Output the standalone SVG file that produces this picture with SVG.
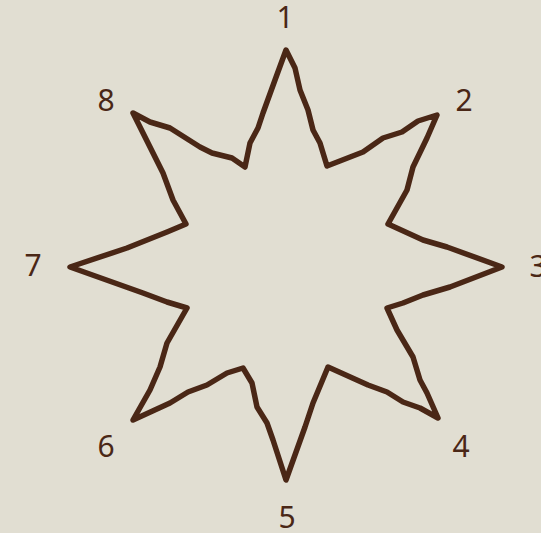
<svg xmlns="http://www.w3.org/2000/svg" width="541" height="533" viewBox="0 0 541 533">
<style>
.star{fill:none;stroke:#4a2716;stroke-width:5.5;stroke-linejoin:round;stroke-linecap:round}
.lbl{font-family:"Noto Sans","Liberation Sans",sans-serif;font-size:30px;fill:#4a2716;text-anchor:middle}
</style>
<rect width="541" height="533" fill="#e1ded2"/>
<g id="star">
<path class="star" d="M286,50 L295,68 L300,90 L308,110 L313,130 L320,143 L327,166 L363,152 L383,138 L402,132 L418,121 L437,115 L427,138 L413,167 L407,190 L388,224 L423,240 L447,247 L502,267 L450,287 L423,295 L403,303 L387,308 L397,330 L413,357 L420,380 L427,393 L438,418 L420,408 L403,402 L387,392 L368,385 L328,367 L313,403 L305,427 L286,480 L273,440 L267,423 L257,407 L252,383 L243,368 L227,373 L207,385 L188,392 L170,403 L133,420 L150,390 L160,367 L167,343 L187,308 L167,302 L143,293 L70,267 L127,248 L167,232 L186,224 L173,200 L163,173 L133,113 L150,122 L170,128 L200,147 L212,153 L232,158 L245,167 L250,143 L258,128 L263,113 L275,80 Z"/>
</g>
<g id="labels">
<text id="n1" class="lbl" x="285" y="28">1</text>
<text id="n2" class="lbl" x="464" y="111">2</text>
<text id="n3" class="lbl" x="538" y="277">3</text>
<text id="n4" class="lbl" x="461" y="457">4</text>
<text id="n5" class="lbl" x="287" y="528">5</text>
<text id="n6" class="lbl" x="106" y="457">6</text>
<text id="n7" class="lbl" x="33" y="276">7</text>
<text id="n8" class="lbl" x="106" y="111">8</text>
</g>
</svg>
